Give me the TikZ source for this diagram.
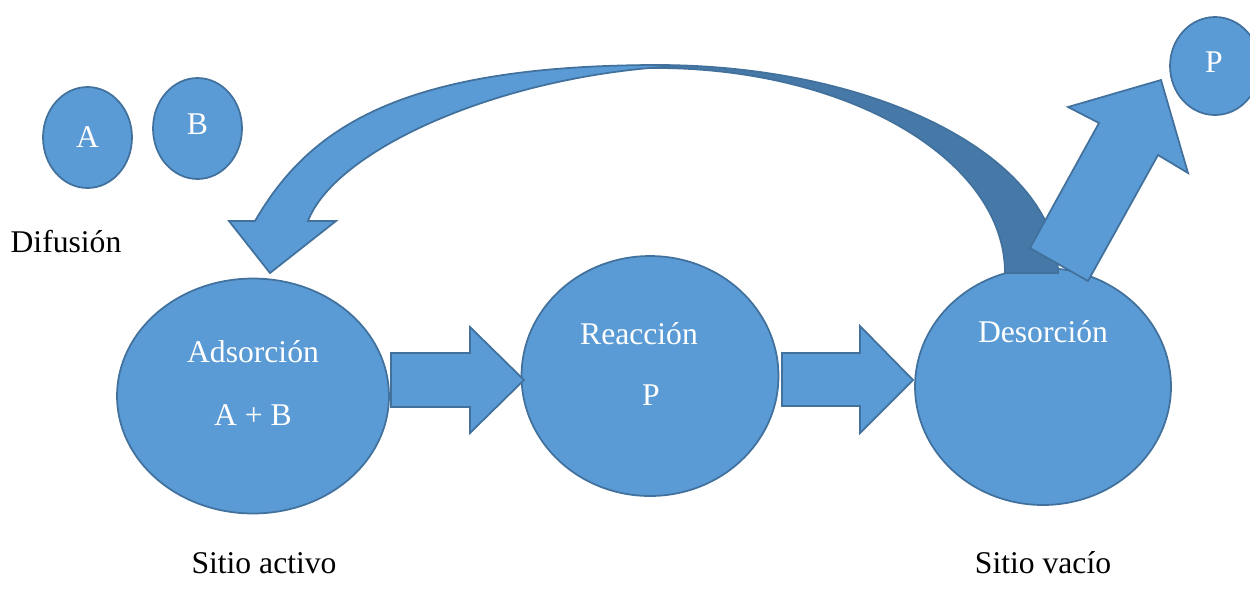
\documentclass[tikz,border=0pt]{standalone}
\usepackage{fontspec}
\setmainfont{Liberation Serif}
\usetikzlibrary{shapes.geometric}
\definecolor{azul}{HTML}{5B9BD5}
\definecolor{borde}{HTML}{41719C}
\definecolor{azuloscuro}{HTML}{4779A8}

\begin{document}
\begin{tikzpicture}[x=0.02cm, y=-0.02cm,
  sitio/.style={ellipse, draw=borde, fill=azul, line width=1pt, inner sep=0pt},
  bloque/.style={draw=borde, fill=azul, line width=1pt, line join=miter},
  blanco/.style={text=white, font=\fontsize{18}{21}\selectfont},
  negro/.style={text=black, font=\fontsize{18}{21}\selectfont}]
  \useasboundingbox (0,0) rectangle (1250,596);
  % particulas que llegan por difusion
  \node[sitio, minimum width=1.78cm, minimum height=2.02cm] (A) at (87.5,137.5) {};
  \node[sitio, minimum width=1.78cm, minimum height=2.02cm] (B) at (197.5,128.5) {};
  \node[blanco] (tA) at (A.center) {A};
  \node[blanco] (tB) at ([yshift=0.08cm]B.center) {B};
  \node[negro] (dif) at (66,242) {Difusión};
  % sitios
  \node[sitio, minimum width=5.44cm, minimum height=4.7cm] (ads) at (253,396) {};
  \node[sitio, minimum width=5.14cm, minimum height=4.8cm] (rea) at (650,376) {};
  \node[sitio, minimum width=5.12cm, minimum height=4.74cm] (des) at (1043,386.5) {};
  \node[sitio, minimum width=1.8cm, minimum height=1.96cm] (P) at (1215,66) {};
  \node[blanco] (tads) at (253,352) {Adsorción};
  \node[blanco] (tab) at (253,415) {A + B};
  \node[blanco] (trea) at (639,334) {Reacción};
  \node[blanco] (tp) at (651,395) {P};
  \node[blanco] (tdes) at (1043,332) {Desorción};
  \node[blanco] (tP) at (1214,62) {P};
  \node[negro] (act) at (264,563) {Sitio activo};
  \node[negro] (vac) at (1043,563) {Sitio vacío};
  % flecha curva: parte trasera y parte delantera
  \draw[bloque, fill=azuloscuro] (600,67) -- (656,65) .. controls (878,65) and (1058,158) .. (1058,273)
    -- (1005,273) .. controls (1005,160) and (849,68) .. (656,68) -- cycle;
  \draw[bloque] (678,66) -- (660,65) .. controls (400,65) and (309,128) .. (255,221)
    -- (229,221) -- (270,273) -- (336,221) -- (308,221)
    .. controls (335,150) and (500,75) .. (678,66) -- cycle;
  % flechas rectas
  \draw[bloque] (391,353) -- (470,353) -- (470,327) -- (524,380) -- (470,433) -- (470,407) -- (391,407) -- cycle;
  \draw[bloque] (782,353) -- (860,353) -- (860,326) -- (913,380) -- (860,433) -- (860,406) -- (782,406) -- cycle;
  \draw[bloque] (1030,248) -- (1099,123) -- (1068,107) -- (1161,80) -- (1188,173) -- (1158,155) -- (1088,281) -- cycle;
\end{tikzpicture}
\end{document}
